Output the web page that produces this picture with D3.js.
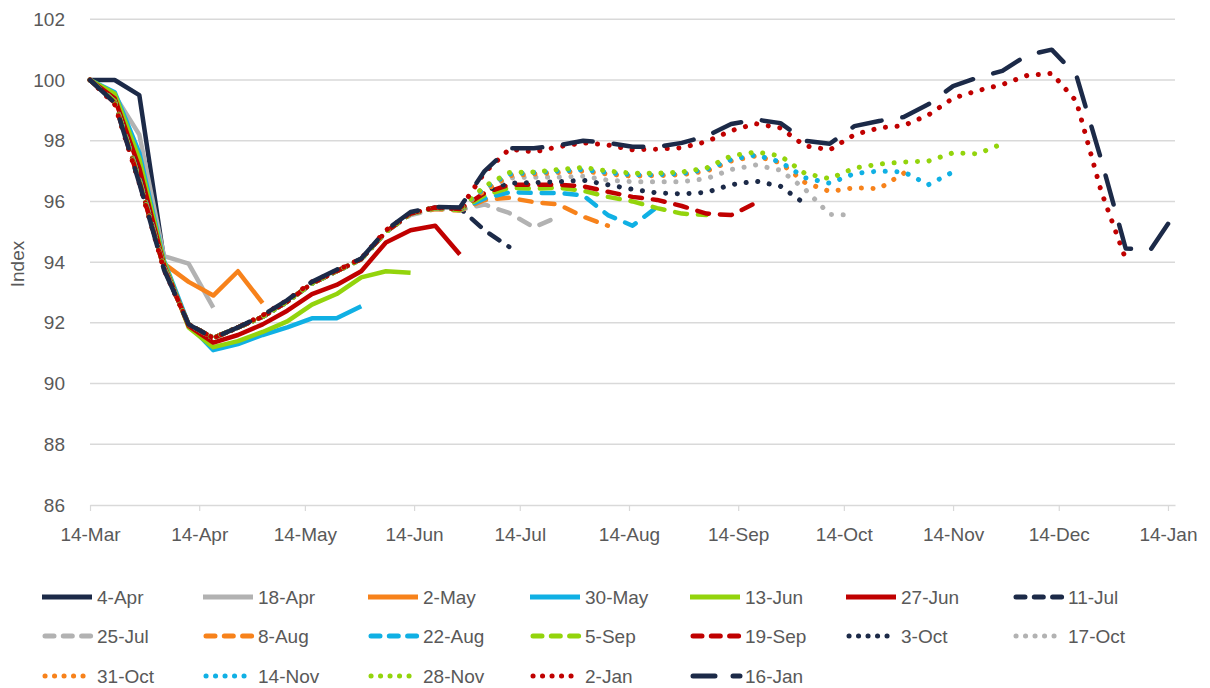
<!DOCTYPE html>
<html>
<head>
<meta charset="utf-8">
<script src="https://cdn.jsdelivr.net/npm/d3@7"></script>
<style>
  body { margin: 0; background: #ffffff; }
  svg { display: block; font-family: "Liberation Sans", Arial, sans-serif; }
</style>
</head>
<body>
<svg id="chart" width="1210" height="688"></svg>
<script>
// Weekly observation dates (Saturdays)
const weeks = [
  "2020-03-14","2020-03-21","2020-03-28","2020-04-04","2020-04-11","2020-04-18","2020-04-25",
  "2020-05-02","2020-05-09","2020-05-16","2020-05-23","2020-05-30","2020-06-06","2020-06-13",
  "2020-06-20","2020-06-27","2020-07-04","2020-07-11","2020-07-18","2020-07-25","2020-08-01",
  "2020-08-08","2020-08-15","2020-08-22","2020-08-29","2020-09-05","2020-09-12","2020-09-19",
  "2020-09-26","2020-10-03","2020-10-10","2020-10-17","2020-10-24","2020-10-31","2020-11-07",
  "2020-11-14","2020-11-21","2020-11-28","2020-12-05","2020-12-12","2020-12-19","2020-12-26",
  "2021-01-02","2021-01-09","2021-01-16"
];

// Axis ticks
const monthTicks = ["2020-03-14","2020-04-14","2020-05-14","2020-06-14","2020-07-14","2020-08-14",
  "2020-09-14","2020-10-14","2020-11-14","2020-12-14","2021-01-14"];
const yTicks = [86, 88, 90, 92, 94, 96, 98, 100, 102];

// Vintage names
const vintages = ["4-Apr","18-Apr","2-May","30-May","13-Jun","27-Jun","11-Jul",
  "25-Jul","8-Aug","22-Aug","5-Sep","19-Sep","3-Oct","17-Oct",
  "31-Oct","14-Nov","28-Nov","2-Jan","16-Jan"];

// Index values per vintage, one value per week from 14-Mar
const v4Apr  = [100, 100, 99.5, 94.1];
const v18Apr = [100, 99.5, 98.2, 94.2, 93.95, 92.5];
const v2May  = [100, 99.35, 97.4, 93.95, 93.35, 92.9, 93.7, 92.65];
const v30May = [100, 99.6, 97.6, 94.05, 91.95, 91.1, 91.3, 91.6, 91.85, 92.15, 92.15, 92.55];
const v13Jun = [100, 99.55, 97.4, 94.0, 91.85, 91.2, 91.4, 91.7, 92.05, 92.6, 92.95, 93.5, 93.7, 93.65];
const v27Jun = [100, 99.4, 97.1, 93.9, 91.9, 91.35, 91.6, 91.95, 92.4, 92.95, 93.25, 93.7, 94.65, 95.05, 95.2, 94.25];
const v11Jul = [100, 99.3, 96.8, 93.85, 91.95, 91.5, 91.85, 92.2, 92.7, 93.3, 93.7, 94.1, 95.0, 95.6, 95.8, 95.78,
  95.05, 94.5];
const v25Jul = [100, 99.3, 96.75, 93.85, 91.95, 91.5, 91.85, 92.2, 92.7, 93.3, 93.7, 94.1, 95.0, 95.55, 95.75, 95.72,
  95.9, 95.62, 95.15, 95.5];
const v8Aug  = [100, 99.3, 96.7, 93.8, 91.95, 91.5, 91.85, 92.2, 92.7, 93.3, 93.7, 94.1, 95.0, 95.6, 95.75, 95.7,
  96.05, 96.12, 95.98, 95.9, 95.5, 95.2];
const v22Aug = [100, 99.3, 96.7, 93.8, 91.95, 91.5, 91.85, 92.2, 92.7, 93.3, 93.7, 94.1, 95.0, 95.6, 95.78, 95.72,
  96.1, 96.3, 96.28, 96.28, 96.2, 95.55, 95.2, 95.82];
const v5Sep  = [100, 99.3, 96.7, 93.8, 91.95, 91.5, 91.85, 92.2, 92.7, 93.3, 93.7, 94.1, 95.0, 95.6, 95.78, 95.72,
  96.2, 96.45, 96.42, 96.45, 96.35, 96.15, 96.0, 95.78, 95.6, 95.55];
const v19Sep = [100, 99.25, 96.65, 93.8, 91.95, 91.5, 91.85, 92.2, 92.7, 93.3, 93.7, 94.1, 95.0, 95.6, 95.8, 95.75,
  96.28, 96.55, 96.55, 96.55, 96.5, 96.32, 96.15, 96.05, 95.85, 95.6, 95.55, 95.95];
const v3Oct  = [100, 99.25, 96.65, 93.8, 91.95, 91.5, 91.85, 92.2, 92.7, 93.3, 93.7, 94.1, 95.0, 95.6, 95.8, 95.75,
  96.35, 96.6, 96.62, 96.65, 96.7, 96.55, 96.4, 96.28, 96.25, 96.3, 96.55, 96.67, 96.5, 95.92];
const v17Oct = [100, 99.25, 96.65, 93.8, 91.95, 91.5, 91.85, 92.2, 92.7, 93.3, 93.7, 94.1, 95.0, 95.6, 95.8, 95.75,
  96.4, 96.77, 96.8, 96.8, 96.83, 96.7, 96.65, 96.65, 96.65, 96.75, 97.05, 97.2, 97.03, 96.4, 95.57, 95.55];
const v31Oct = [100, 99.25, 96.65, 93.8, 91.95, 91.5, 91.85, 92.2, 92.7, 93.3, 93.7, 94.1, 95.0, 95.6, 95.8, 95.75,
  96.35, 96.85, 96.9, 96.95, 97.0, 96.9, 96.83, 96.85, 96.88, 97.0, 97.33, 97.5, 97.27, 96.62, 96.33, 96.45,
  96.42, 96.93];
const v14Nov = [100, 99.25, 96.65, 93.8, 91.95, 91.5, 91.85, 92.2, 92.7, 93.3, 93.7, 94.1, 95.0, 95.6, 95.8, 95.75,
  96.45, 96.9, 96.95, 97.0, 97.05, 96.95, 96.88, 96.88, 96.92, 97.05, 97.38, 97.53, 97.3, 96.78, 96.6, 96.92,
  97.0, 96.97, 96.55, 96.97];
const v28Nov = [100, 99.25, 96.65, 93.8, 91.95, 91.5, 91.85, 92.2, 92.7, 93.3, 93.7, 94.1, 95.0, 95.6, 95.8, 95.75,
  96.5, 96.95, 96.97, 97.05, 97.12, 97.0, 96.93, 96.93, 96.97, 97.1, 97.5, 97.63, 97.5, 96.92, 96.75, 97.1,
  97.23, 97.3, 97.33, 97.6, 97.57, 97.9];
const v2Jan  = [100, 99.2, 96.6, 93.75, 91.95, 91.5, 91.85, 92.25, 92.75, 93.35, 93.72, 94.12, 95.05, 95.62, 95.8, 95.75,
  96.95, 97.72, 97.63, 97.8, 97.93, 97.86, 97.7, 97.72, 97.77, 97.97, 98.33, 98.56, 98.42, 97.83, 97.7, 98.2,
  98.42, 98.5, 98.85, 99.4, 99.65, 99.85, 100.15, 100.22, 99.3, 96.35, 94.1];
const v16Jan = [100, 99.25, 96.6, 93.75, 91.95, 91.5, 91.85, 92.25, 92.75, 93.35, 93.75, 94.12, 95.05, 95.65, 95.82, 95.8,
  97.0, 97.75, 97.75, 97.85, 98.0, 97.93, 97.8, 97.8, 97.93, 98.15, 98.55, 98.7, 98.58, 98.0, 97.9, 98.48,
  98.65, 98.78, 99.2, 99.8, 100.08, 100.3, 100.82, 101.0, 100.15, 97.4, 94.45, 94.4, 95.6];

const vintageValues = [v4Apr, v18Apr, v2May, v30May, v13Jun, v27Jun, v11Jul, v25Jul, v8Aug, v22Aug,
  v5Sep, v19Sep, v3Oct, v17Oct, v31Oct, v14Nov, v28Nov, v2Jan, v16Jan];

// Line styling
const NAVY = "#1c2a48", GREY = "#b2b2b2", ORANGE = "#f7821b", CYAN = "#10b0e4", GREEN = "#93d40c", RED = "#c00000";
const seriesStyle = [
  {color: NAVY, dash: "solid"}, {color: GREY, dash: "solid"}, {color: ORANGE, dash: "solid"},
  {color: CYAN, dash: "solid"}, {color: GREEN, dash: "solid"}, {color: RED, dash: "solid"},
  {color: NAVY, dash: "dash"}, {color: GREY, dash: "dash"}, {color: ORANGE, dash: "dash"},
  {color: CYAN, dash: "dash"}, {color: GREEN, dash: "dash"}, {color: RED, dash: "dash"},
  {color: NAVY, dash: "dot"}, {color: GREY, dash: "dot"}, {color: ORANGE, dash: "dot"},
  {color: CYAN, dash: "dot"}, {color: GREEN, dash: "dot"}, {color: RED, dash: "dot"},
  {color: NAVY, dash: "long"}
];
const strokeSpec = {
  solid: {w: 4.5, arr: null},
  dash:  {w: 4.5, arr: "12,11"},
  dot:   {w: 5,   arr: "0.1,11.6"},
  long:  {w: 4.5, arr: "30,21"}
};
const legendSpec = {
  solid: {w: 5, arr: null},
  dash:  {w: 5, arr: "9,9.3"},
  dot:   {w: 5, arr: "0.1,9.4"},
  long:  {w: 5, arr: "22,18"}
};

const parse = d3.utcParse("%Y-%m-%d");
const fmt = d3.utcFormat("%-d-%b");

const svg = d3.select("#chart");
const plotLeft = 90, plotRight = 1175, plotTop = 19.3, plotBottom = 505;
const fontSize = "19px";

const x = d3.scaleUtc()
  .domain([parse("2020-03-14"), parse("2021-01-16")])
  .range([plotLeft, plotRight]);
const y = d3.scaleLinear().domain([86, 102]).range([plotBottom, plotTop]);

const textColor = "#595959";
const gridColor = "#d9d9d9";

// Horizontal gridlines
svg.append("g")
  .selectAll("line")
  .data(yTicks.filter(t => t !== 86))
  .join("line")
  .attr("x1", plotLeft).attr("x2", plotRight)
  .attr("y1", d => y(d)).attr("y2", d => y(d))
  .attr("stroke", gridColor).attr("stroke-width", 1.5);

// Y axis labels
const yAxis = svg.append("g")
  .attr("transform", `translate(${plotLeft},0)`)
  .call(d3.axisLeft(y).tickValues(yTicks).tickSize(0).tickPadding(25));
yAxis.select(".domain").remove();
yAxis.selectAll("text").attr("fill", textColor).style("font-size", fontSize)
  .style("font-family", "'Liberation Sans', Arial, sans-serif");

// X axis
const xAxis = svg.append("g")
  .attr("transform", `translate(0,${plotBottom})`)
  .call(d3.axisBottom(x).tickValues(monthTicks.map(parse)).tickFormat(fmt).tickSizeInner(6).tickSizeOuter(0).tickPadding(17));
xAxis.select(".domain").attr("stroke", gridColor).attr("stroke-width", 1.5);
xAxis.selectAll(".tick line").attr("stroke", gridColor).attr("stroke-width", 1.2);
xAxis.selectAll("text").attr("fill", textColor).style("font-size", fontSize)
  .style("font-family", "'Liberation Sans', Arial, sans-serif");

// Axis title
svg.append("text")
  .attr("transform", "translate(24,264) rotate(-90)")
  .attr("text-anchor", "middle")
  .attr("fill", textColor)
  .style("font-size", fontSize)
  .text("Index");

// Vintage lines
const line = d3.line()
  .x(d => x(d.date))
  .y(d => y(d.value));

const seriesData = vintageValues.map(vals => vals.map((v, i) => ({date: parse(weeks[i]), value: v})));

svg.append("g")
  .selectAll("path")
  .data(seriesData)
  .join("path")
  .attr("d", line)
  .attr("fill", "none")
  .attr("stroke", (d, i) => seriesStyle[i].color)
  .attr("stroke-width", (d, i) => strokeSpec[seriesStyle[i].dash].w)
  .attr("stroke-dasharray", (d, i) => strokeSpec[seriesStyle[i].dash].arr)
  .attr("stroke-linecap", (d, i) => seriesStyle[i].dash === "solid" ? "butt" : "round")
  .attr("stroke-linejoin", "round");

// Legend
const legendCols = [42, 203, 368, 530, 690, 846, 1013];
const legendRows = [597, 636, 676];
const legend = svg.append("g")
  .selectAll("g")
  .data(vintages)
  .join("g")
  .attr("transform", (d, i) => `translate(${legendCols[i % 7]},${legendRows[Math.floor(i / 7)]})`);

legend.append("line")
  .attr("x1", (d, i) => seriesStyle[i].dash === "solid" ? 0 : 3)
  .attr("x2", 50)
  .attr("y1", 0).attr("y2", 0)
  .attr("stroke", (d, i) => seriesStyle[i].color)
  .attr("stroke-width", (d, i) => legendSpec[seriesStyle[i].dash].w)
  .attr("stroke-dasharray", (d, i) => legendSpec[seriesStyle[i].dash].arr)
  .attr("stroke-linecap", (d, i) => seriesStyle[i].dash === "solid" ? "butt" : "round");

legend.append("text")
  .attr("x", 55)
  .attr("y", 0)
  .attr("dy", "0.35em")
  .attr("fill", textColor)
  .style("font-size", fontSize)
  .text(d => d);
</script>
</body>
</html>
